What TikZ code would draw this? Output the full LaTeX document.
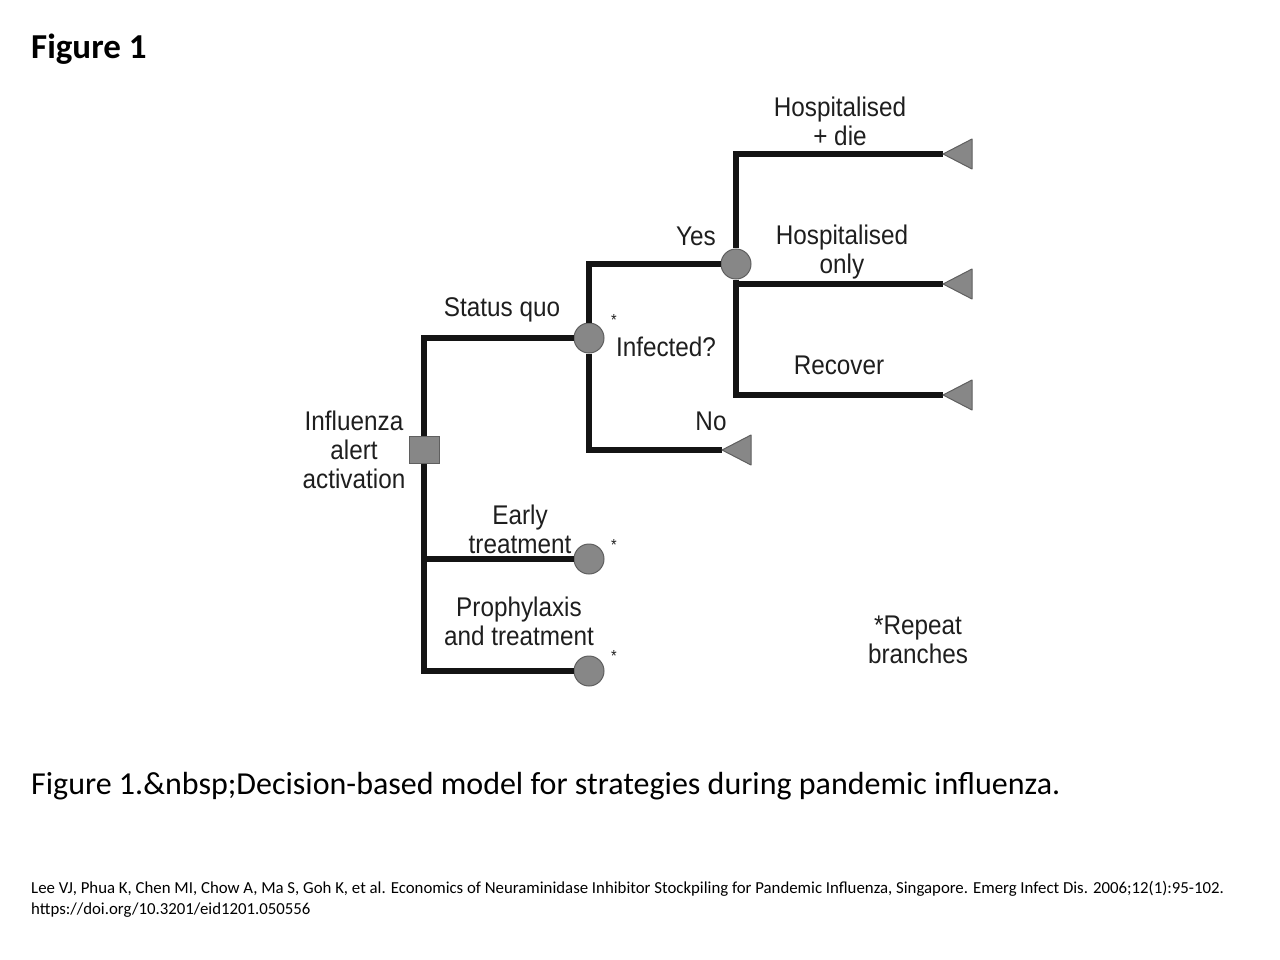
\documentclass[tikz,border=0pt]{standalone}
\usepackage{fontspec}
\setmainfont{Carlito}
\newfontfamily\dfont[FakeStretch=0.9]{Liberation Sans}
\usetikzlibrary{positioning}
\definecolor{ngray}{RGB}{135,135,135}
\definecolor{nedge}{RGB}{95,95,95}
\definecolor{lblack}{RGB}{20,20,20}
\definecolor{tcol}{RGB}{30,30,30}
\begin{document}
\begin{tikzpicture}[x=1pt,y=-1pt,
  branch/.style={draw=lblack,line width=5.5pt,line join=miter},
  chance/.style={circle,fill=ngray,draw=nedge,line width=1pt,minimum size=30pt,inner sep=0pt},
  decision/.style={rectangle,fill=ngray,draw=nedge,line width=1pt,minimum width=30pt,minimum height=27pt,inner sep=0pt},
  tri/.style={fill=ngray,draw=nedge,line width=1pt,line join=round},
  lab/.style={font=\dfont\fontsize{27}{29}\selectfont,text=tcol,align=center,inner sep=0pt},
  star/.style={font=\dfont\fontsize{16}{16}\selectfont,text=tcol,inner sep=0pt}]
\useasboundingbox (0,0) rectangle (1280,960);
% nodes
\node[decision] (root) at (424,450) {};
\node[chance] (inf) at (589,338) {};
\node[chance] (yes) at (736,264) {};
\node[chance] (early) at (589,559) {};
\node[chance] (proph) at (589,671) {};
\coordinate (t1) at (943,154);
\coordinate (t2) at (943,284);
\coordinate (t3) at (943,395);
\coordinate (tn) at (722,450);
% connectors
\draw[branch] (root) |- (inf);
\draw[branch] (root) |- (early);
\draw[branch] (root) |- (proph);
\draw[branch] (inf) |- (yes);
\draw[branch] (inf) |- (tn);
\draw[branch] (yes) |- (t1);
\draw[branch] (yes) |- (t2);
\draw[branch] (yes) |- (t3);
% terminal triangles
\foreach \t in {t1,t2,t3,tn}{
  \draw[tri] (\t) -- ++(29,-15) -- ++(0,30) -- cycle;
}
% labels
\node[lab] (lhd) at (840,121) {Hospitalised\\+ die};
\node[lab] (lyes) at (696,236) {Yes};
\node[lab] (lho) at (842,252) {Hospitalised\\only};
\node[lab] (lsq) at (502,310) {Status quo};
\node[lab] (linf) at (666,347) {Infected?};
\node[lab] (lrec) at (839,365) {Recover};
\node[lab] (lno) at (711,421) {No};
\node[lab] (lroot) at (354,450) {Influenza\\alert\\activation};
\node[lab] (lear) at (520,529) {Early\\treatment};
\node[lab] (lpro) at (519,621) {Prophylaxis\\and treatment};
\node[lab] (lrep) at (918,640) {*Repeat\\branches};
\node[star] (s1) at (614,320) {*};
\node[star] (s2) at (614,545) {*};
\node[star] (s3) at (614,656) {*};
% title and captions
\node[anchor=base west,inner sep=0pt,font=\bfseries\fontsize{35}{35}\selectfont] (title) at (31,59) {Figure 1};
\node[anchor=base west,inner sep=0pt,font=\fontsize{32}{32}\selectfont] (cap) at (31,794) {Figure 1.\&nbsp;Decision-based model for strategies during pandemic influenza.};
\node[anchor=base west,inner sep=0pt,font=\fontsize{16.8}{21}\selectfont,align=left] (cite) at (31,914) {Lee VJ, Phua K, Chen MI, Chow A, Ma S, Goh K, et al. Economics of Neuraminidase Inhibitor Stockpiling for Pandemic Influenza, Singapore. Emerg Infect Dis. 2006;12(1):95-102.\\https://doi.org/10.3201/eid1201.050556};
\end{tikzpicture}
\end{document}
